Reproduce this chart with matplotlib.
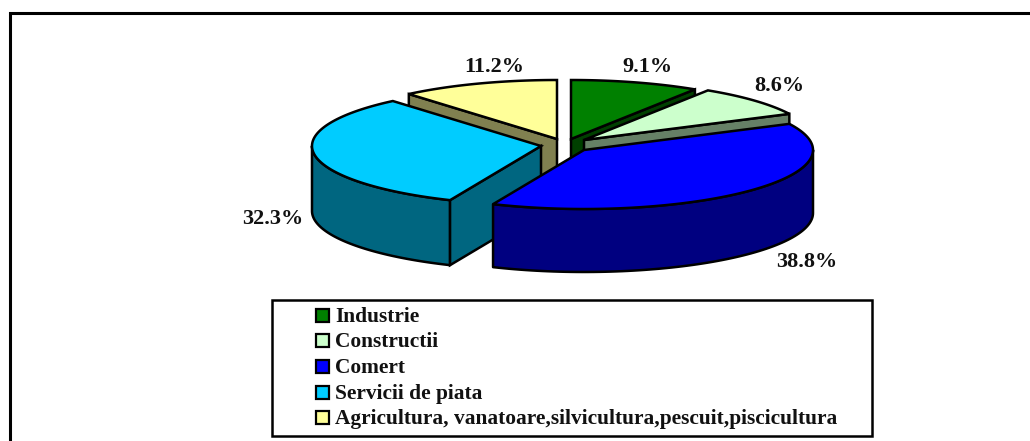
import matplotlib
matplotlib.use("Agg")
import matplotlib.pyplot as plt
from matplotlib.patches import Rectangle
import numpy as np

categories = ["Industrie", "Constructii", "Comert", "Servicii de piata",
              "Agricultura, vanatoare,silvicultura,pescuit,piscicultura"]
shares = [9.1, 8.6, 38.8, 32.3, 11.2]
labels = ["9.1%", "8.6%", "38.8%", "32.3%", "11.2%"]
top_colors = ["#008000", "#CCFFCC", "#0000FF", "#00CCFF", "#FFFF99"]
side_colors = ["#004000", "#668066", "#000080", "#006680", "#808050"]

# wedge apex in pixels, the slices are pulled apart
apex = [(571, 139), (584, 140), (584, 150), (541, 146), (557, 139)]
label_pos = [(647, 66.5), (779, 86), (807, 262), (272.5, 219), (494.5, 67)]
draw_order = [4, 0, 1, 3, 2]
depths = [63, 63, 63, 65, 63]

RX = 229
RY = 59
FONT = ["Liberation Serif", "DejaVu Serif"]

plt.rcParams["font.family"] = FONT

fig = plt.figure(figsize=(10.30, 4.41), dpi=100)
ax = fig.add_axes([0, 0, 1, 1])
ax.set_xlim(0, 1030)
ax.set_ylim(441, 0)
ax.axis("off")


def rim(c, t):
    return c[0] + RX * np.sin(t), c[1] - RY * np.cos(t)


def draw_slice(c, t0, t1, top, side, depth):
    # outer wall, only the part turned to the viewer
    a = max(t0, np.pi / 2)
    b = min(t1, 3 * np.pi / 2)
    if b > a:
        t = np.linspace(a, b, 80)
        x, y = rim(c, t)
        xs = np.r_[x, x[::-1]]
        ys = np.r_[y, y[::-1] + depth]
        ax.fill(xs, ys, facecolor=side, edgecolor="black", lw=1.8, joinstyle="round")
    # cut walls
    for ang in (t0, t1):
        if (ang == t0 and np.sin(ang) < 0) or (ang == t1 and np.sin(ang) > 0 and np.cos(ang) > 0):
            x, y = rim(c, ang)
            ax.fill([c[0], x, x, c[0]], [c[1], y, y + depth, c[1] + depth],
                    facecolor=side, edgecolor="black", lw=1.8)
    # top face
    t = np.linspace(t0, t1, 120)
    x, y = rim(c, t)
    ax.fill(np.r_[c[0], x], np.r_[c[1], y], facecolor=top, edgecolor="black", lw=1.8)


edges = np.r_[0, np.cumsum(shares)] / sum(shares) * 2 * np.pi
for i in draw_order:
    draw_slice(apex[i], edges[i], edges[i + 1], top_colors[i], side_colors[i], depths[i])

for i, txt in enumerate(labels):
    ax.text(label_pos[i][0], label_pos[i][1], txt, ha="center", va="center",
            fontsize=16, fontweight="bold", color="#111111")

# outer frame, open at right and bottom
ax.plot([9.5, 9.5, 1030], [441, 12.5, 12.5], color="black", lw=2.2,
        solid_joinstyle="miter")

# legend box
ax.add_patch(Rectangle((271.5, 299.5), 600, 136, facecolor="white", edgecolor="black", lw=1.8))
for i, name in enumerate(categories):
    y = 315 + i * 25.7
    ax.add_patch(Rectangle((315.5, y - 6.5), 13, 13, facecolor=top_colors[i],
                           edgecolor="black", lw=1.6))
    ax.text(335, y + 1.5, name, ha="left", va="center", fontsize=15.4, fontweight="bold",
            color="#111111")

fig.savefig("out.png", dpi=100)
